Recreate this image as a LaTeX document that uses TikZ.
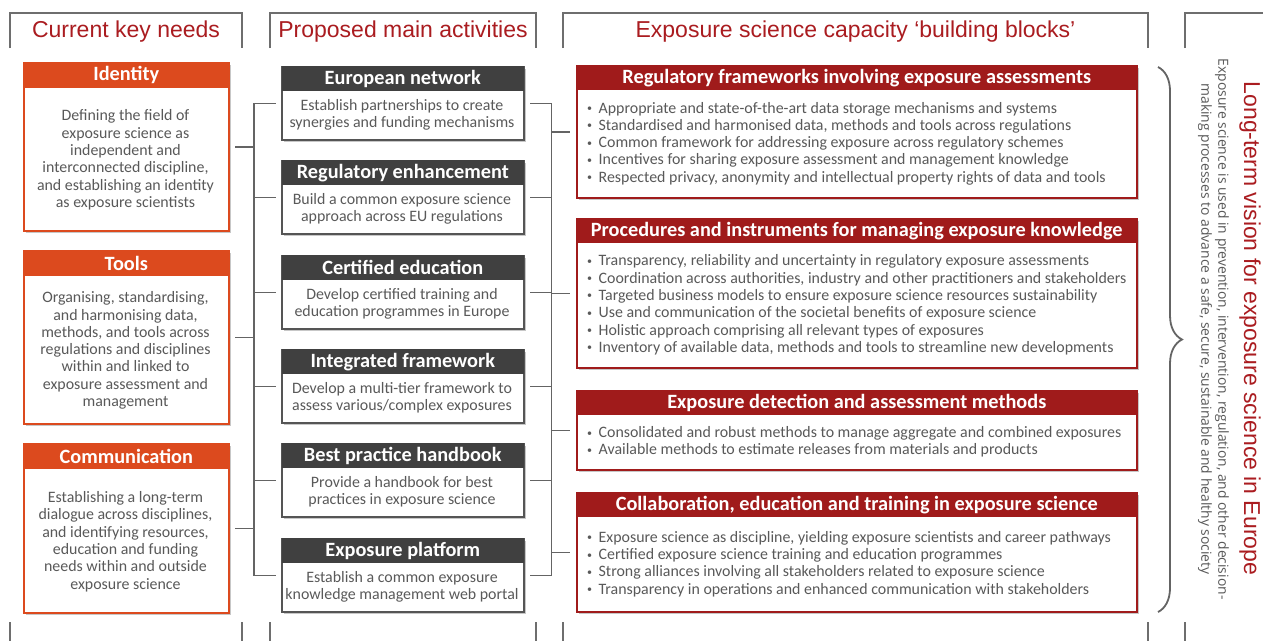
\documentclass[tikz,border=0pt]{standalone}
\usepackage{fontspec}
\setmainfont{Carlito}
\newfontfamily\arialf{Liberation Sans}
\newfontfamily\opensansf{Open Sans}
\usetikzlibrary{calc,shadows,decorations.pathreplacing}
\definecolor{needorange}{RGB}{220,74,30}
\definecolor{hdrgray}{RGB}{64,64,64}
\definecolor{boxgray}{RGB}{85,85,85}
\definecolor{blockred}{RGB}{160,27,27}
\definecolor{titlered}{RGB}{170,28,32}
\definecolor{txtgray}{RGB}{89,89,89}
\definecolor{linegray}{RGB}{100,100,100}
\definecolor{brkgray}{RGB}{110,110,110}
\newcommand\myblt{\raisebox{1.6pt}{\fontsize{10}{10}\selectfont\textbullet}\hspace{6.5pt}}
\tikzset{
  shd/.style={drop shadow={shadow xshift=2.5pt,shadow yshift=-2.5pt,fill=black,opacity=0.22}},
  boxbase/.style={rectangle, fill=white, line width=1.6pt, anchor=north west, inner sep=0pt, shd},
  needbox/.style={boxbase, draw=needorange, minimum width=205pt},
  actbox/.style={boxbase, draw=boxgray, minimum width=242pt, minimum height=73pt},
  blockbox/.style={boxbase, draw=blockred, minimum width=560pt},
  hdrbase/.style={rectangle, anchor=north, inner sep=0pt, minimum height=25pt, text=white, font=\fontsize{20.3}{22}\selectfont\bfseries},
  needhdr/.style={hdrbase, fill=needorange, minimum width=205pt, minimum height=26pt},
  acthdr/.style={hdrbase, fill=hdrgray, minimum width=242pt},
  blockhdr/.style={hdrbase, fill=blockred, minimum width=560pt},
  bodytxt/.style={text=txtgray, font=\fontsize{15.9}{17.3}\selectfont, align=center, inner sep=0pt},
  bullettxt/.style={text=txtgray, font=\fontsize{15.9}{17.3}\selectfont, align=left, inner sep=0pt, anchor=west},
  conn/.style={draw=linegray, line width=1.5pt, line cap=rect},
  brk/.style={draw=brkgray, line width=2pt},
  coltitle/.style={text=titlered, font=\arialf\fontsize{23}{26}\selectfont, inner sep=0pt},
}
\begin{document}
\begin{tikzpicture}[x=1pt,y=-1pt]
\useasboundingbox (0,0) rectangle (1263,641);
\fill[white] (0,0) rectangle (1263,641);
% column brackets
\draw[brk] (10,48) -- (10,13) -- (242,13) -- (242,48);
\draw[brk] (270,48) -- (270,13) -- (536,13) -- (536,48);
\draw[brk] (563,48) -- (563,13) -- (1148,13) -- (1148,48);
\draw[brk] (1185,48) -- (1185,13) -- (1263,13);
\foreach \x in {10,242,270,536,563,1148,1185} \draw[brk] (\x,622) -- (\x,641);
\node[coltitle] (t-needs) at (126,32) {Current key needs};
\node[coltitle] (t-act) at (403,32) {Proposed main activities};
\node[coltitle] (t-blocks) at (855.5,32) {Exposure science capacity ‘building blocks’};

% current key needs
\node[needbox, minimum height=168pt] (identity) at (23,62) {};
\node[needhdr] (identity-h) at (identity.north) {Identity};
\node[bodytxt] (identity-t) at (125.5,160) {Defining the field of\\exposure science as\\independent and\\interconnected discipline,\\and establishing an identity\\as exposure scientists};

\node[needbox, minimum height=173pt] (tools) at (23,250) {};
\node[needhdr] (tools-h) at (tools.north) {Tools};
\node[bodytxt] (tools-t) at (125.5,350.5) {Organising, standardising,\\and harmonising data,\\methods, and tools across\\regulations and disciplines\\within and linked to\\exposure assessment and\\management};

\node[needbox, minimum height=169pt] (comm) at (23,443) {};
\node[needhdr] (comm-h) at (comm.north) {Communication};
\node[bodytxt] (comm-t) at (125.5,541.5) {Establishing a long-term\\dialogue across disciplines,\\and identifying resources,\\education and funding\\needs within and outside\\exposure science};

% proposed main activities
\node[actbox] (eunet) at (281,66) {};
\node[acthdr] (eunet-h) at (eunet.north) {European network};
\node[bodytxt] (eunet-t) at (402,115) {Establish partnerships to create\\synergies and funding mechanisms};

\node[actbox] (regenh) at (281,160) {};
\node[acthdr] (regenh-h) at (regenh.north) {Regulatory enhancement};
\node[bodytxt] (regenh-t) at (402,209) {Build a common exposure science\\approach across EU regulations};

\node[actbox] (certed) at (281,255) {};
\node[acthdr] (certed-h) at (certed.north) {Certified education};
\node[bodytxt] (certed-t) at (402,304) {Develop certified training and\\education programmes in Europe};

\node[actbox] (intfw) at (281,349) {};
\node[acthdr] (intfw-h) at (intfw.north) {Integrated framework};
\node[bodytxt] (intfw-t) at (402,398) {Develop a multi-tier framework to\\assess various/complex exposures};

\node[actbox] (bestp) at (281,443) {};
\node[acthdr] (bestp-h) at (bestp.north) {Best practice handbook};
\node[bodytxt] (bestp-t) at (402,492) {Provide a handbook for best\\practices in exposure science};

\node[actbox] (plat) at (281,538) {};
\node[acthdr] (plat-h) at (plat.north) {Exposure platform};
\node[bodytxt] (plat-t) at (402,587) {Establish a common exposure\\knowledge management web portal};

% building blocks
\node[blockbox, minimum height=132pt] (regfw) at (576,65) {};
\node[blockhdr] (regfw-h) at (regfw.north) {Regulatory frameworks involving exposure assessments};
\node[bullettxt] (regfw-t) at (587,143.5) {\myblt Appropriate and state-of-the-art data storage mechanisms and systems\\\myblt Standardised and harmonised data, methods and tools across regulations\\\myblt Common framework for addressing exposure across regulatory schemes\\\myblt Incentives for sharing exposure assessment and management knowledge\\\myblt Respected privacy, anonymity and intellectual property rights of data and tools};

\node[blockbox, minimum height=149pt] (proc) at (576,218) {};
\node[blockhdr] (proc-h) at (proc.north) {Procedures and instruments for managing exposure knowledge};
\node[bullettxt] (proc-t) at (587,305) {\myblt Transparency, reliability and uncertainty in regulatory exposure assessments\\\myblt Coordination across authorities, industry and other practitioners and stakeholders\\\myblt Targeted business models to ensure exposure science resources sustainability\\\myblt Use and communication of the societal benefits of exposure science\\\myblt Holistic approach comprising all relevant types of exposures\\\myblt Inventory of available data, methods and tools to streamline new developments};

\node[blockbox, minimum height=79pt] (detect) at (576,390) {};
\node[blockhdr] (detect-h) at (detect.north) {Exposure detection and assessment methods};
\node[bullettxt] (detect-t) at (587,442) {\myblt Consolidated and robust methods to manage aggregate and combined exposures\\\myblt Available methods to estimate releases from materials and products};

\node[blockbox, minimum height=119pt] (collab) at (576,492) {};
\node[blockhdr] (collab-h) at (collab.north) {Collaboration, education and training in exposure science};
\node[bullettxt] (collab-t) at (587,564) {\myblt Exposure science as discipline, yielding exposure scientists and career pathways\\\myblt Certified exposure science training and education programmes\\\myblt Strong alliances involving all stakeholders related to exposure science\\\myblt Transparency in operations and enhanced communication with stakeholders};

% connectors
\coordinate (lsp-top) at ($(eunet.west)+(-27,0)$);
\coordinate (lsp-bot) at ($(plat.west)+(-27,0)$);
\draw[conn] (lsp-top) -- (lsp-bot);
\foreach \n in {eunet,regenh,certed,intfw,bestp,plat}
  \draw[conn] ($(\n.west)+(-6,0)$) -- (\n.west -| lsp-top);
\foreach \n in {identity,tools,comm}
  \draw[conn] ($(\n.east)+(6,0)$) -- (\n.east -| lsp-top);
\coordinate (rsp-top) at ($(eunet.east)+(27,0)$);
\coordinate (rsp-bot) at ($(plat.east)+(27,0)$);
\draw[conn] (rsp-top) -- (rsp-bot);
\foreach \n in {eunet,regenh,certed,intfw,bestp,plat}
  \draw[conn] ($(\n.east)+(6,0)$) -- (\n.east -| rsp-top);
\foreach \n in {regfw,proc,detect,collab}
  \draw[conn] ($(\n.west)+(-7,0)$) -- (\n.west -| rsp-top);

% brace and vision
\draw[draw=linegray, line width=1.8pt, decorate, decoration={brace, amplitude=24pt}] (1158,67) -- (1158,612);
\node[text=titlered, font=\arialf\fontsize{23}{26}\selectfont, rotate=-90, inner sep=0pt] (vision) at (1250,328.5) {Long-term vision for exposure science in Europe};
\node[text=txtgray, font=\opensansf\fontsize{13.9}{17}\selectfont, rotate=-90, align=center, inner sep=0pt] (vision-sub) at (1213.5,329) {Exposure science is used in prevention, intervention, regulation, and other decision-\\making processes to advance a safe, secure, sustainable and healthy society};
\end{tikzpicture}
\end{document}
